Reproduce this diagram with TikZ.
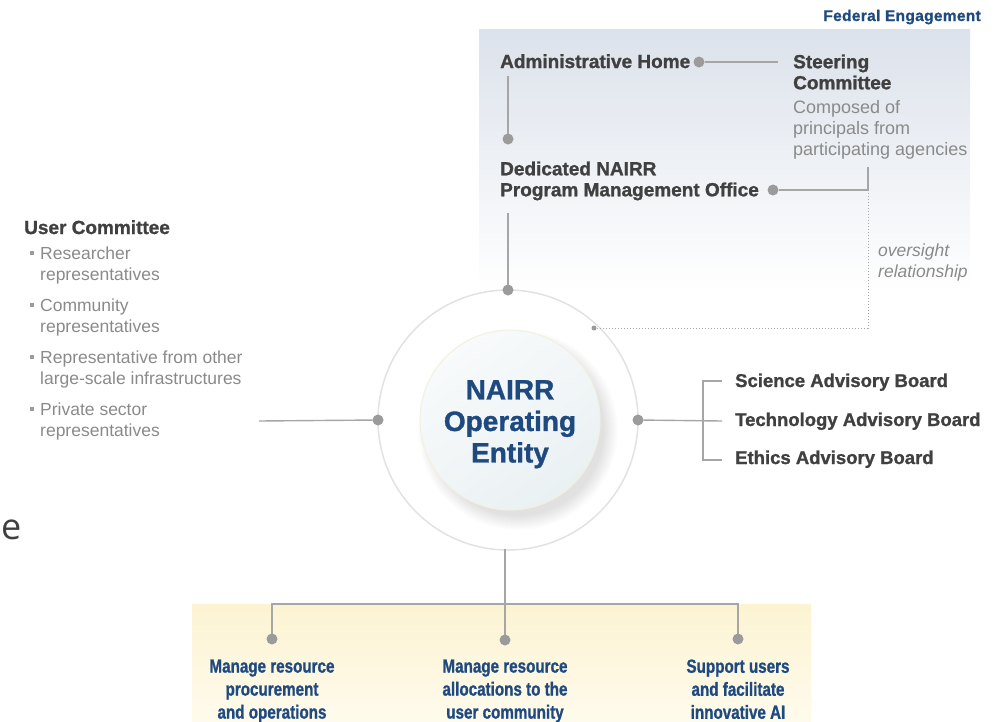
\documentclass[tikz,border=0pt]{standalone}
\usepackage{fontspec}
\setmainfont{Liberation Sans}
\newfontfamily\heavy{Liberation Sans Bold}[FakeBold=1.2]
\newfontfamily\condheavy{Liberation Sans Bold}[FakeStretch=0.8, FakeBold=1.0]
\newfontfamily\fedfont{Liberation Sans Bold}[LetterSpace=2, FakeBold=1.0]
\newfontfamily\efont{Open Sans}
\definecolor{cDark}{RGB}{64,64,64}
\definecolor{cGray}{RGB}{138,138,138}
\definecolor{cLine}{RGB}{166,166,166}
\definecolor{cDot}{RGB}{155,155,155}
\definecolor{cBlue}{RGB}{31,74,128}
\definecolor{cRing}{RGB}{226,226,226}
\definecolor{fedTop}{RGB}{220,226,235}
\definecolor{yelTop}{RGB}{252,243,210}
\definecolor{yelBot}{RGB}{255,251,236}
\definecolor{oeA}{RGB}{248,250,251}
\definecolor{oeB}{RGB}{234,241,243}
\definecolor{oeEdge}{RGB}{242,240,224}
\newcommand{\ucbul}{\hspace*{6pt}{\color{cDot}\rule[4pt]{4pt}{4pt}}\hspace*{6pt}}
\newcommand{\ucind}{\hspace*{16pt}}
\begin{document}
\begin{tikzpicture}[x=1pt,y=-1pt,
  dot/.style={circle, fill=cDot, inner sep=0pt, outer sep=0pt, minimum size=11pt},
  smalldot/.style={circle, fill=cDot, inner sep=0pt, outer sep=0pt, minimum size=5pt},
  conn/.style={draw=cLine, line width=1.4pt},
  dotconn/.style={draw=cLine, line width=1pt, dotted},
  boldtxt/.style={inner sep=0pt, text=cDark, font=\heavy\fontsize{19}{21}\selectfont, align=left},
  advtxt/.style={inner sep=0pt, text=cDark, font=\heavy\fontsize{18.5}{21}\selectfont},
  graytxt/.style={inner sep=0pt, text=cGray, font=\fontsize{18}{21}\selectfont, align=left},
  bottxt/.style={inner sep=0pt, text=cBlue, font=\condheavy\fontsize{19}{23}\selectfont, align=center, anchor=north}
]
\useasboundingbox (0,0) rectangle (1005,721);
% backgrounds
\shade[top color=fedTop, bottom color=white] (479,29) rectangle (970,292);
\shade[top color=yelTop, bottom color=yelBot] (192,604) rectangle (811,721);
% header
\node[inner sep=0pt, anchor=base east, text=cBlue, font=\fedfont\fontsize{15.5}{17}\selectfont] (fed) at (981,21) {Federal Engagement};
% stray letter
\node[inner sep=0pt, anchor=base west, text=cDark, font=\efont\fontsize{36}{36}\selectfont] (etext) at (1,539) {e};
% central entity
\foreach \i in {1,...,15} {\fill[black, opacity=0.009] (518,430) circle ({85+\i});}
\node[circle, draw=cRing, line width=1.5pt, minimum size=260pt, inner sep=0pt, outer sep=0pt] (ring) at (508,420) {};
\node[circle, draw=oeEdge, line width=1pt, top color=oeA, bottom color=oeB, shading angle=35, minimum size=180pt, inner sep=0pt] (oe) at (510,420) {};
\node[inner sep=0pt, anchor=north, text=cBlue, align=center, font=\heavy\fontsize{28}{31.5}\selectfont] (oelabel) at (510,380) {NAIRR\\Operating\\Entity};
% federal engagement texts
\node[boldtxt, anchor=base west] (adm) at (500,68) {Administrative Home};
\node[boldtxt, anchor=north west] (steer) at (793,54.3) {Steering\\Committee};
\node[graytxt, anchor=north west] (steerdesc) at (793,100) {Composed of\\principals from\\participating agencies};
\node[boldtxt, anchor=north west] (pmo) at (500,161.3) {Dedicated NAIRR\\Program Management Office};
\node[graytxt, anchor=north west, font=\fontsize{17.5}{21}\selectfont\itshape] (over) at (878,243.2) {oversight\\relationship};
% user committee
\node[boldtxt, anchor=base west] (uc) at (24,234) {User Committee};
\node[inner sep=0pt, anchor=north west, text=cGray, align=left, font=\fontsize{17.5}{21}\selectfont] (uclist) at (24,246.4)
 {\ucbul Researcher\\\ucind representatives\\[10pt]
  \ucbul Community\\\ucind representatives\\[10pt]
  \ucbul Representative from other\\\ucind large-scale infrastructures\\[10pt]
  \ucbul Private sector\\\ucind representatives};
% advisory boards
\node[advtxt, anchor=base west] (sci) at (735,387) {Science Advisory Board};
\node[advtxt, anchor=base west] (tech) at (735,426) {Technology Advisory Board};
\node[advtxt, anchor=base west] (eth) at (735,464) {Ethics Advisory Board};
% bottom functions
\node[bottxt] (f1) at (272,659.3) {Manage resource\\procurement\\and operations};
\node[bottxt] (f2) at (505,659.3) {Manage resource\\allocations to the\\user community};
\node[bottxt] (f3) at (738,659.3) {Support users\\and facilitate\\innovative AI};
% dots
\node[dot] (dAH) at (699,62) {};
\node[dot] (dPMOtop) at (508,139) {};
\node[dot] (dPMO) at (773,190) {};
\node[dot] (dOEtop) at (ring.north) {};
\node[smalldot] (dOver) at (594,328) {};
\node[dot] (dLeft) at (ring.west) {};
\node[dot] (dRight) at (ring.east) {};
\node[dot] (b1) at (272,639) {};
\node[dot] (b2) at (505,640) {};
\node[dot] (b3) at (738,639) {};
% helper coordinates
\coordinate (cSteer) at (778,62);
\coordinate (cAHbelow) at (508,76);
\coordinate (cSC) at (868,167);
\coordinate (cCorner) at (868,190);
\coordinate (cOverCorner) at (868,328);
\coordinate (cPMObelow) at (508,213);
\coordinate (cUC) at (259,421);
\coordinate (bTech) at (722,421);
\coordinate (bSci) at (722,381);
\coordinate (bEth) at (722,460);
\coordinate (bx) at (703,0);
\coordinate (cOEbot) at (505,549);
\coordinate (hbar) at (505,604);
% connectors
\draw[conn] (dAH) -- (cSteer);
\draw[conn] (cAHbelow) -- (dPMOtop);
\draw[conn] (dPMO) -- (cCorner) -- (cSC);
\draw[dotconn] (cCorner) -- (cOverCorner) -- (dOver);
\draw[conn] (cPMObelow) -- (dOEtop);
\draw[conn] (cUC) -- (dLeft);
\draw[conn] (dRight) -- (bTech);
\draw[conn] (bSci) -- (bx |- bSci) -- (bx |- bEth) -- (bEth);
\draw[conn] (cOEbot) -- (b2);
\draw[conn] (b1) -- (b1 |- hbar) -- (b3 |- hbar) -- (b3);
\end{tikzpicture}
\end{document}
